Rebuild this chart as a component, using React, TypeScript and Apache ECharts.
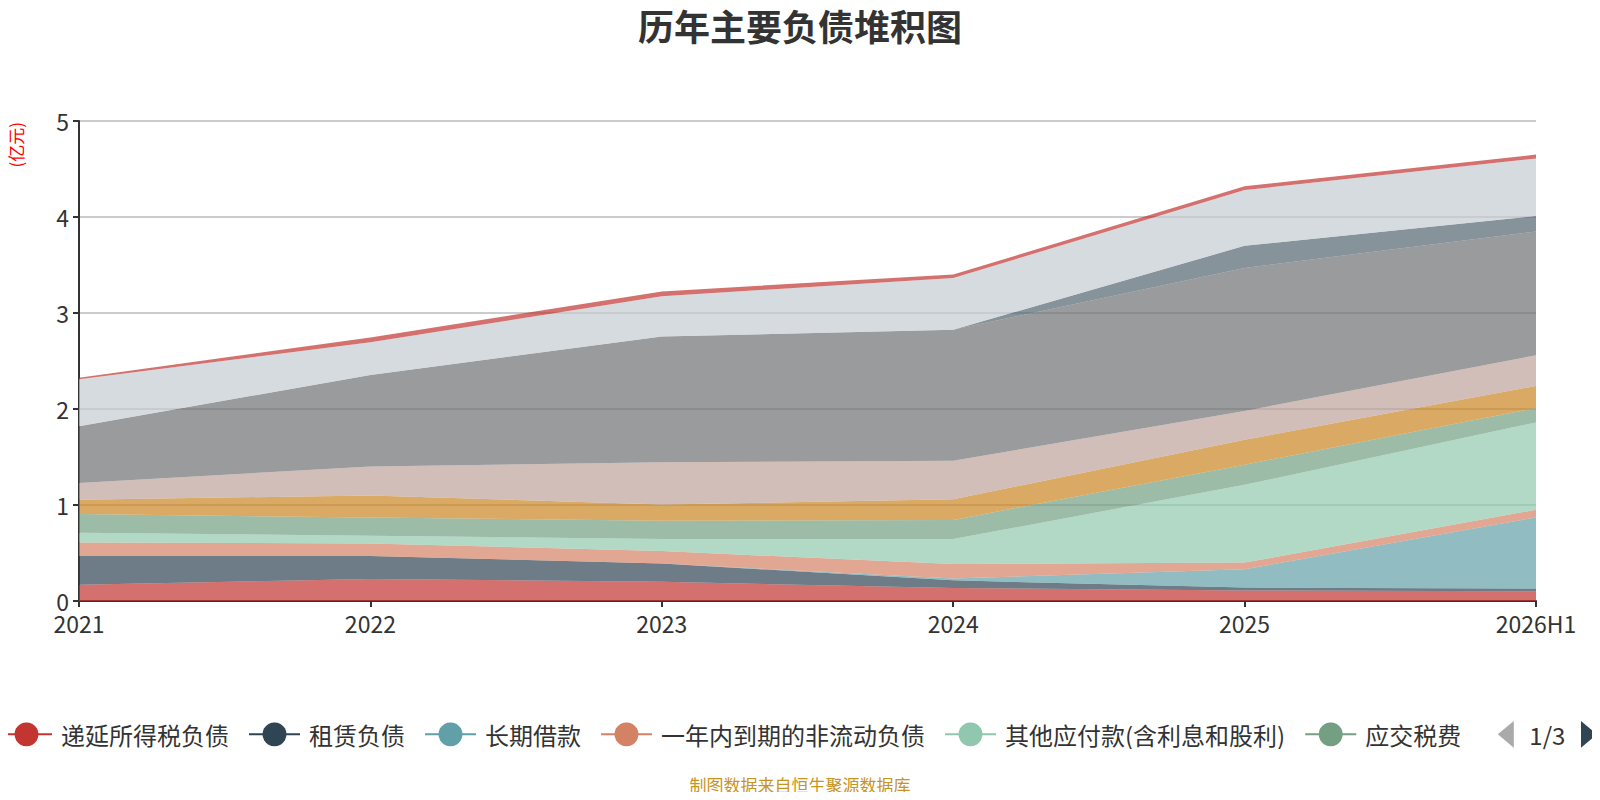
import React, { useEffect, useRef } from "react";
import * as echarts from "echarts";

// 报告期
const periods = ["2021", "2022", "2023", "2024", "2025", "2026H1"];

// 各负债项目（亿元），自下而上堆叠
const deferredTax = [0.17, 0.23, 0.2, 0.135, 0.11, 0.1];
const leaseLiab = [0.3, 0.24, 0.19, 0.08, 0.03, 0.03];
const longLoan = [0, 0, 0, 0.02, 0.19, 0.74];
const currentNonCurrent = [0.14, 0.13, 0.13, 0.15, 0.07, 0.08];
const otherPayables = [0.1, 0.08, 0.125, 0.26, 0.81, 0.91];
const taxesPayable = [0.195, 0.19, 0.19, 0.2, 0.21, 0.15];
const staffPayable = [0.15, 0.23, 0.17, 0.215, 0.26, 0.23];
const contractLiab = [0.175, 0.3, 0.44, 0.4, 0.3, 0.32];
const accountsPayable = [0.59, 0.955, 1.31, 1.365, 1.49, 1.29];
const shortLoan = [0, 0, 0, 0, 0.23, 0.16];
const notesPayable = [0.49, 0.34, 0.42, 0.54, 0.58, 0.6];
const otherCurrent = [0.015, 0.05, 0.05, 0.035, 0.04, 0.04];
const longPayables = [0, 0, 0, 0, 0, 0];
const bondsPayable = [0, 0, 0, 0, 0, 0];

const seriesNames = [
  "递延所得税负债",
  "租赁负债",
  "长期借款",
  "一年内到期的非流动负债",
  "其他应付款(含利息和股利)",
  "应交税费",
  "应付职工薪酬",
  "合同负债",
  "应付账款",
  "短期借款",
  "应付票据",
  "其他流动负债",
  "长期应付款",
  "应付债券",
];
const seriesData = [
  deferredTax,
  leaseLiab,
  longLoan,
  currentNonCurrent,
  otherPayables,
  taxesPayable,
  staffPayable,
  contractLiab,
  accountsPayable,
  shortLoan,
  notesPayable,
  otherCurrent,
  longPayables,
  bondsPayable,
];

const palette = [
  "#c23531", "#2f4554", "#61a0a8", "#d48265", "#91c7ae", "#749f83",
  "#ca8622", "#bda29a", "#6e7074", "#546570", "#c4ccd3",
];

const FONT = "'Noto Sans CJK SC', 'Noto Sans', sans-serif";

const App: React.FC = () => {
  const chartRef = useRef<HTMLDivElement>(null);

  useEffect(() => {
    const chart = echarts.init(chartRef.current!, undefined, { renderer: "svg" });

    chart.setOption({
      animation: false,
      color: palette,
      textStyle: { fontFamily: FONT },
      title: {
        text: "历年主要负债堆积图",
        left: "center",
        top: 2,
        textStyle: { fontSize: 36, fontWeight: "bold", color: "#333", fontFamily: FONT },
      },
      grid: { left: 79, right: 64, top: 121, bottom: 199 },
      legend: {
        type: "scroll",
        top: 716,
        left: 0,
        right: 0,
        padding: [5, 3, 5, 0],
        itemWidth: 51,
        itemHeight: 30,
        itemGap: 19,
        textStyle: { fontSize: 24, color: "#333", fontFamily: FONT, padding: [0, 0, 0, 4] },
        lineStyle: { width: 2, opacity: 1 },
        pageIconSize: [16, 28],
        pageButtonGap: 23,
        pageIconColor: "#2f4554",
        pageIconInactiveColor: "#aaa",
        pageTextStyle: { fontSize: 24, color: "#333", fontFamily: FONT },
        data: seriesNames,
      },
      xAxis: {
        type: "category",
        boundaryGap: false,
        data: periods,
        axisLine: { lineStyle: { color: "#333", width: 2 } },
        axisTick: { alignWithLabel: true, length: 6, lineStyle: { color: "#333", width: 2 } },
        axisLabel: { fontSize: 23, color: "#333", margin: 10, fontFamily: FONT },
      },
      yAxis: {
        type: "value",
        min: 0,
        max: 5,
        interval: 1,
        axisLine: { show: true, lineStyle: { color: "#333", width: 2 } },
        axisTick: { show: true, length: 6, lineStyle: { color: "#333", width: 2 } },
        axisLabel: { fontSize: 23, color: "#333", margin: 10, fontFamily: FONT },
        splitLine: { lineStyle: { color: "#ccc", width: 2 } },
      },
      graphic: [
        {
          type: "text",
          left: 7,
          top: 122,
          rotation: Math.PI / 2,
          style: { text: "(亿元)", fill: "#ff0000", font: `17px ${FONT}` },
        },
        {
          type: "text",
          left: "center",
          top: 776,
          style: { text: "制图数据来自恒生聚源数据库", font: `17px ${FONT}`, fill: "#c8941e" },
        },
      ],
      series: seriesNames.map((name, i) => ({
        name,
        type: "line",
        stack: "total",
        data: seriesData[i],
        symbol: "circle",
        showSymbol: false,
        lineStyle: { width: 0 },
        areaStyle: { opacity: 0.7 },
      })),
    });

    return () => {
      chart.dispose();
    };
  }, []);

  return <div ref={chartRef} style={{ width: 1600, height: 800, margin: -8 }} />;
};

export default App;
